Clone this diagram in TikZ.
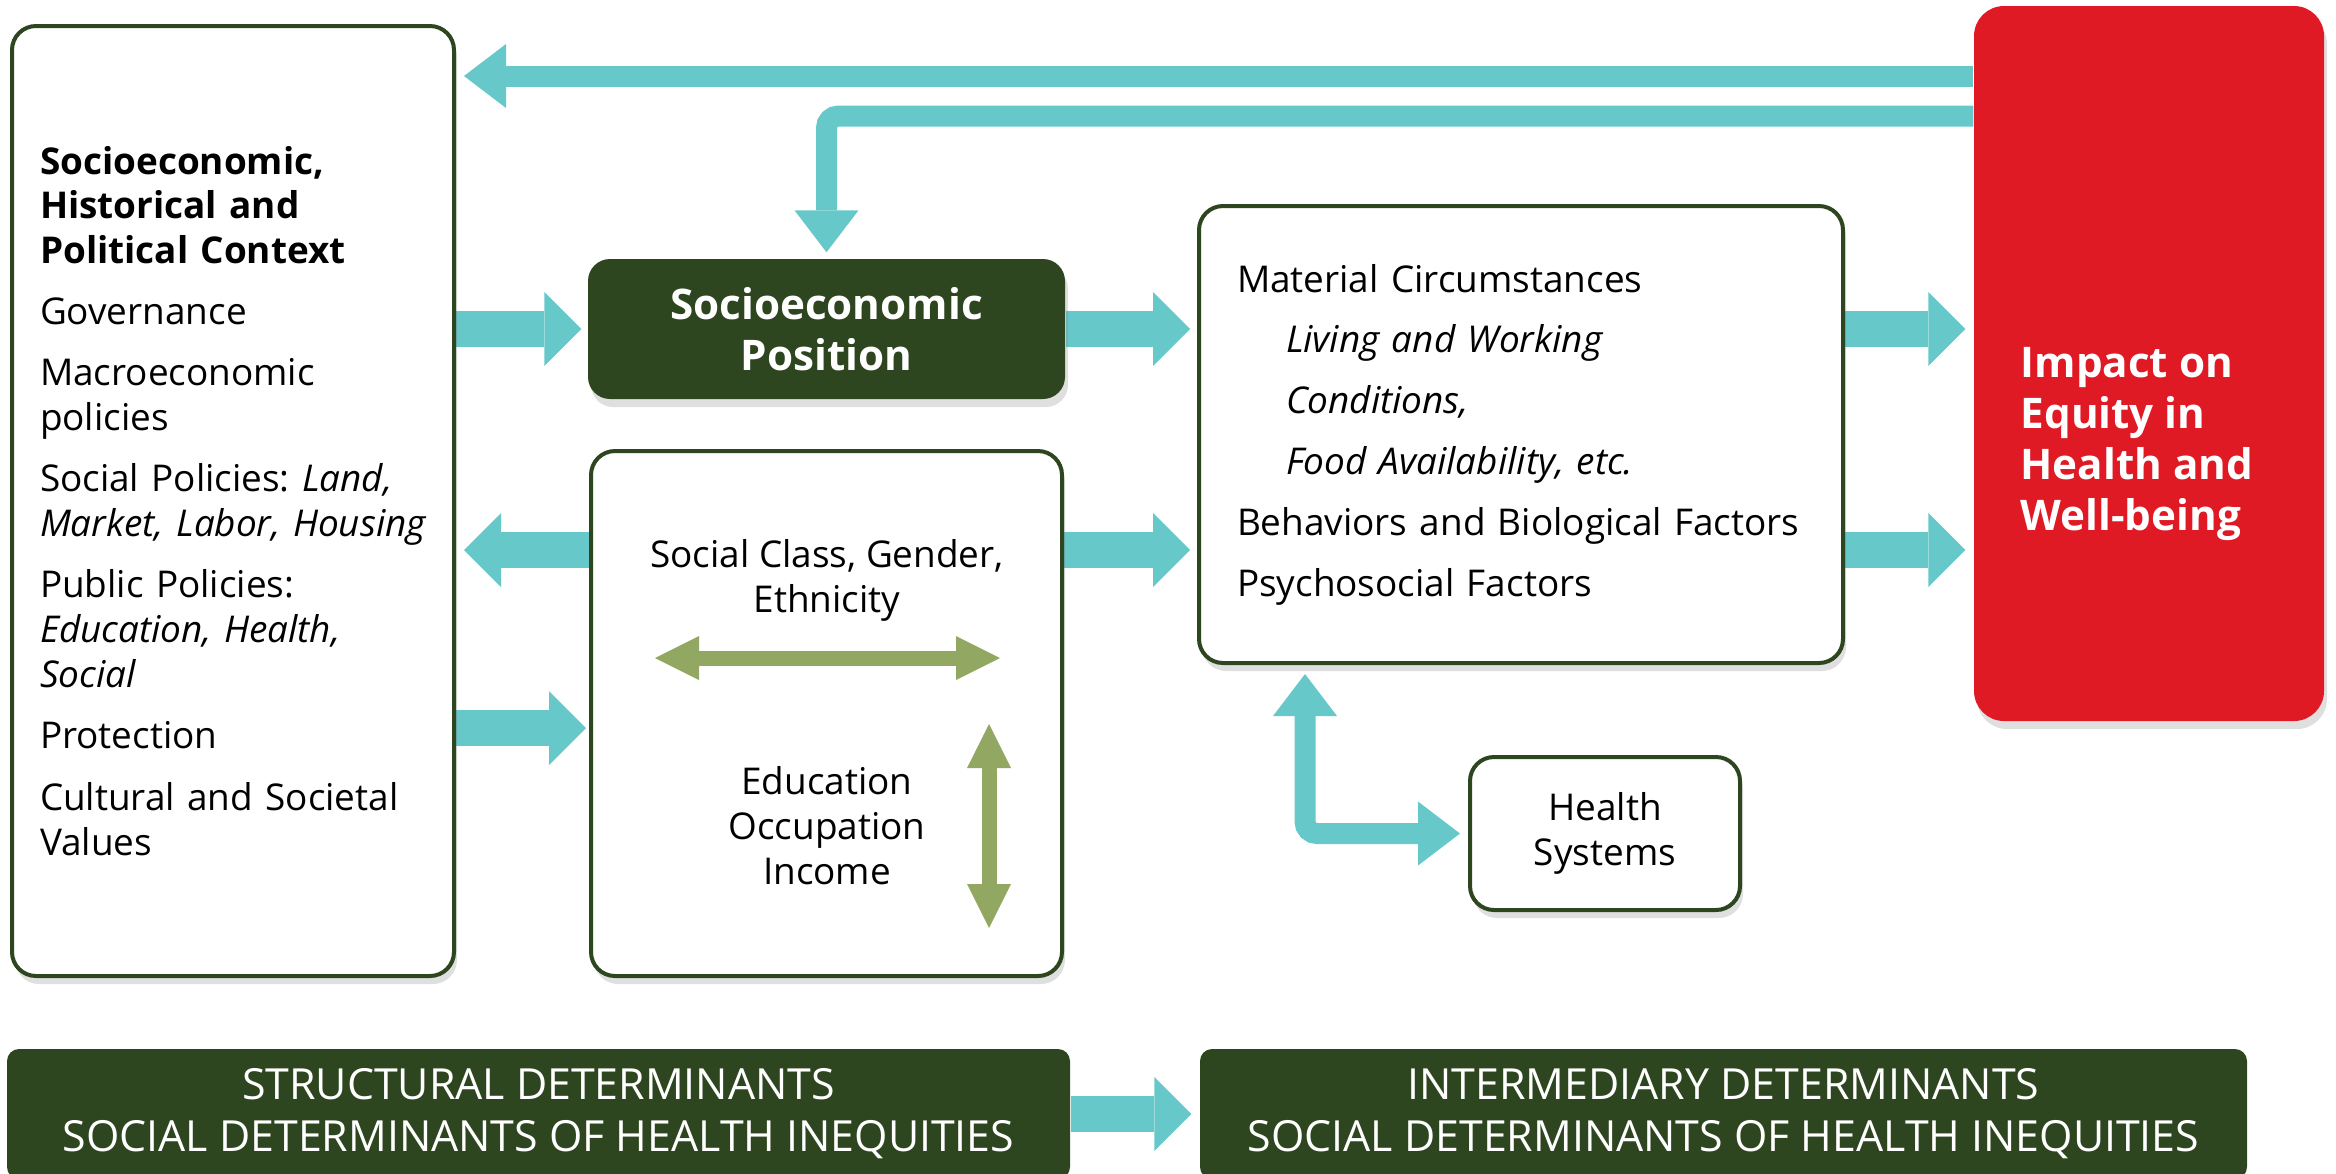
\documentclass[tikz,border=0pt]{standalone}
\usepackage{fontspec}
\setmainfont{Open Sans}
\usetikzlibrary{positioning,arrows.meta,shadows,backgrounds}
\definecolor{arrowteal}{RGB}{103,200,202}
\definecolor{leafgreen}{RGB}{146,168,98}
\definecolor{boxgreen}{RGB}{46,70,31}
\definecolor{impactred}{RGB}{224,26,36}
\frenchspacing
\tikzset{
  bodyfont/.style = {font=\fontsize{10.5}{12.8}\selectfont},
  headfont/.style = {font=\fontsize{12}{14.5}\selectfont\bfseries},
  whitebox/.style = {draw=boxgreen, line width=0.4mm, rounded corners=2.4mm, fill=white,
    drop shadow={shadow xshift=0.3mm, shadow yshift=-0.8mm, opacity=0.25}},
  darkbox/.style = {fill=boxgreen, rounded corners=2.2mm, text=white, align=center},
  footbox/.style = {fill=boxgreen, rounded corners=1.2mm, text=white, align=center,
    font=\fontsize{12.2}{14.8}\selectfont, minimum height=13mm},
  bigarrow/.style = {arrowteal, line width=3.6mm, ->,
    >={Triangle[length=3.7mm,width=7.4mm,line width=0pt]}},
  thinarrow/.style = {arrowteal, line width=2.1mm, ->,
    >={Triangle[length=4.2mm,width=6.4mm,line width=0pt]}},
  greenarrow/.style = {leafgreen, line width=1.5mm, <->,
    >={Triangle[length=4.4mm,width=4.4mm,line width=0pt]}}
}
\begin{document}
\begin{tikzpicture}[x=0.1mm, y=-0.1mm]
\useasboundingbox (0,0) rectangle (2336,1173);

% structural side
\node[whitebox, bodyfont, minimum width=44.2mm, minimum height=95mm, text width=38.6mm,
  inner xsep=2.8mm, align=left] (context) at (233,501) {%
  {\fontsize{10.5}{12.4}\selectfont\bfseries Socioeconomic,\\ Historical and\\ Political Context}\\[4.6pt]
  Governance\\[4.6pt]
  Macroeconomic\\ policies\\[4.6pt]
  Social Policies: \textit{Land,}\\ \mbox{\textit{Market, Labor, Housing}}\\[4.6pt]
  Public Policies:\\ \textit{Education, Health,}\\ \textit{Social}\\[4.6pt]
  Protection\\[4.6pt]
  Cultural and Societal\\ Values};
\node[darkbox, headfont, minimum width=47.7mm, minimum height=14mm,
  drop shadow={shadow xshift=0.3mm, shadow yshift=-0.8mm, opacity=0.25}] (position) at (826.5,329)
  {Socioeconomic\\Position};
\node[whitebox, minimum width=47.1mm, minimum height=52.5mm] (social) at (826.5,713.5) {};
\node[bodyfont, align=center] (classtext) at (827,580) {Social Class, Gender,\\Ethnicity};
\node[bodyfont, align=center] (sestext) at (827,826) {Education\\Occupation\\Income};

% intermediary side
\node[whitebox, minimum width=64.4mm, minimum height=45.7mm, text width=56.8mm,
  inner xsep=3.8mm, align=left, font=\fontsize{10.5}{17.3}\selectfont] (material) at (1521,434.5) {%
  Material Circumstances\\
  \hspace*{4.9mm}\textit{Living and Working}\\
  \hspace*{4.9mm}\textit{Conditions,}\\
  \hspace*{4.9mm}\textit{Food Availability, etc.}\\
  Behaviors and Biological Factors\\
  Psychosocial Factors};
\node[whitebox, bodyfont, minimum width=27mm, minimum height=15.3mm, align=center] (health)
  at (1605,833.5) {Health\\Systems};
\node[fill=impactred, rounded corners=3mm, minimum width=35mm, minimum height=71.5mm,
  drop shadow={shadow xshift=0.3mm, shadow yshift=-0.8mm, opacity=0.25}] (impact) at (2149,363.5) {};
\node[headfont, text=white, align=left, anchor=west, inner sep=0pt] (impacttext) at (2020,444)
  {Impact on\\Equity in\\Health and\\Well-being};

% bottom labels
\node[footbox, minimum width=106.3mm] (structural) at (538.5,1114)
  {STRUCTURAL DETERMINANTS\\SOCIAL DETERMINANTS OF HEALTH INEQUITIES};
\node[footbox, minimum width=104.7mm] (intermediary) at (1723.5,1114)
  {INTERMEDIARY DETERMINANTS\\SOCIAL DETERMINANTS OF HEALTH INEQUITIES};

\coordinate (fbone) at (0,76);
\coordinate (fbtwo) at (0,116);
\coordinate (rowb) at (0,550);
\coordinate (rowc) at (0,728);
\coordinate (hsline) at (1305,0);
\coordinate (classl) at (655,658);
\coordinate (classr) at (1000,658);
\coordinate (sesup) at (989,724);
\coordinate (sesdown) at (989,928);

\begin{pgfonlayer}{background}
\draw[thinarrow, shorten >=0.8mm] (impact.west |- fbone) -- (context.east |- fbone);
\draw[thinarrow, rounded corners=1.2mm, shorten >=0.6mm] (impact.west |- fbtwo) -| (position.north);
\draw[bigarrow, shorten >=0.6mm] (context.east |- position.west) -- (position.west);
\draw[bigarrow, shorten >=0.7mm] (position.east) -- (position.east -| material.west);
\draw[bigarrow, shorten >=0.8mm] (social.west |- rowb) -- (context.east |- rowb);
\draw[bigarrow, shorten >=0.3mm] (context.east |- rowc) -- (social.west |- rowc);
\draw[bigarrow, shorten >=0.7mm] (social.east |- rowb) -- (material.west |- rowb);
\draw[bigarrow, shorten >=0.8mm] (material.east |- position.east) -- (impact.west |- position.east);
\draw[bigarrow, shorten >=0.8mm] (material.east |- rowb) -- (impact.west |- rowb);
\draw[thinarrow, <->, rounded corners=1.2mm, shorten <=0.9mm, shorten >=0.8mm]
  (material.south -| hsline) |- (health.west);
\draw[bigarrow, shorten >=0.8mm] (structural.east) -- (intermediary.west);
\end{pgfonlayer}
\draw[greenarrow] (classl) -- (classr);
\draw[greenarrow] (sesup) -- (sesdown);
\end{tikzpicture}
\end{document}
